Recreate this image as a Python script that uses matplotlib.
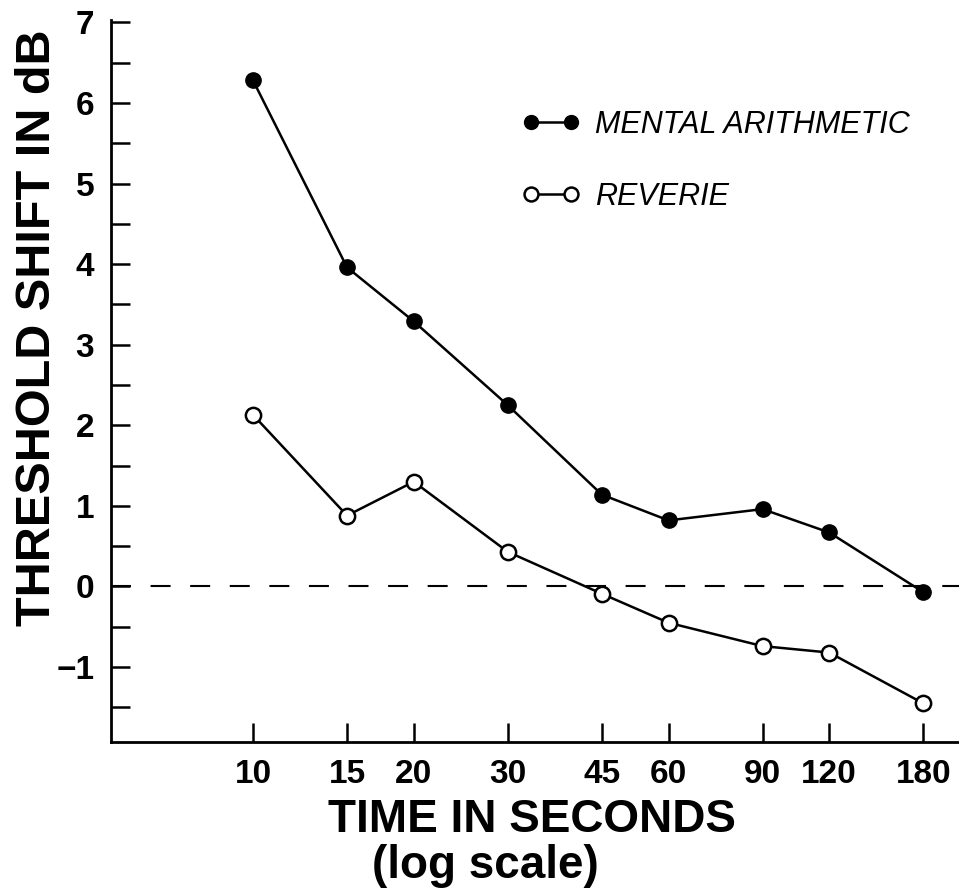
import matplotlib
matplotlib.use("Agg")
import matplotlib.pyplot as plt
from matplotlib.lines import Line2D
from matplotlib.ticker import FixedLocator, FixedFormatter, NullLocator

times = [10, 15, 20, 30, 45, 60, 90, 120, 180]
mental = [6.28, 3.96, 3.29, 2.25, 1.14, 0.82, 0.96, 0.67, -0.07]
reverie = [2.13, 0.88, 1.30, 0.43, -0.09, -0.45, -0.74, -0.82, -1.45]
xtick_labels = ["10", "15", "20", "30", "45", "60", "90", "120", "180"]
ymajor = [-1, 0, 1, 2, 3, 4, 5, 6, 7]
yminor = [-1.5, -0.5, 0.5, 1.5, 2.5, 3.5, 4.5, 5.5, 6.5]
ymajor_labels = ["\u22121", "0", "1", "2", "3", "4", "5", "6", "7"]

FONT = ["Liberation Sans", "DejaVu Sans"]
plt.rcParams['font.family'] = FONT

fig = plt.figure(figsize=(9.59, 8.92), dpi=100)
ax = fig.add_axes([111/959, 150/892, 1 - 111/959, (742-20)/892])

ax.set_xscale('log')
ax.set_xlim(5.42, 210)
ax.set_ylim(-1.93, 7.03)

lw = 1.8
ax.axhline(0, color='black', lw=1.5, dashes=(9.6, 9.4), zorder=1)
ax.plot(times, mental, '-o', color='black', lw=lw, ms=11,
        mfc='black', mec='black', zorder=3)
ax.plot(times, reverie, '-o', color='black', lw=lw, ms=11,
        mfc='white', mec='black', mew=1.8, zorder=3)

for s in ['top', 'right']:
    ax.spines[s].set_visible(False)
for s in ['left', 'bottom']:
    ax.spines[s].set_linewidth(2.0)

ax.xaxis.set_major_locator(FixedLocator(times))
ax.xaxis.set_major_formatter(FixedFormatter(xtick_labels))
ax.xaxis.set_minor_locator(NullLocator())
ax.set_yticks(ymajor)
ax.set_yticklabels(ymajor_labels)
ax.set_yticks(yminor, minor=True)
ax.tick_params(axis='both', which='both', direction='in', length=14, width=1.8)
ax.tick_params(axis='x', pad=12, labelsize=24)
ax.tick_params(axis='y', pad=12, labelsize=24)
for t in ax.get_xticklabels() + ax.get_yticklabels():
    t.set_fontweight('bold')

handles = [
    Line2D([], [], color='black', lw=lw, marker='o', ms=10, mfc='black', mec='black'),
    Line2D([], [], color='black', lw=lw, marker='o', ms=10, mfc='white', mec='black', mew=1.8),
]
leg = ax.legend(handles, ["MENTAL ARITHMETIC", "REVERIE"], numpoints=2,
                handlelength=1.9, handletextpad=0.5, labelspacing=1.38,
                frameon=False, loc='upper left', bbox_to_anchor=(0.452, 0.914),
                prop={'family': FONT, 'style': 'italic', 'size': 22})

fig.text(0.039, (892 - 328)/892, "THRESHOLD SHIFT IN dB", rotation=90,
         ha='center', va='center', fontsize=35, fontweight='bold')
fig.text(532/959, (892 - 820)/892, "TIME IN SECONDS", ha='center', va='center',
         fontsize=33, fontweight='bold')
fig.text(485/959, (892 - 866)/892, "(log scale)", ha='center', va='center',
         fontsize=33, fontweight='bold')

fig.savefig("out.png", dpi=100)
